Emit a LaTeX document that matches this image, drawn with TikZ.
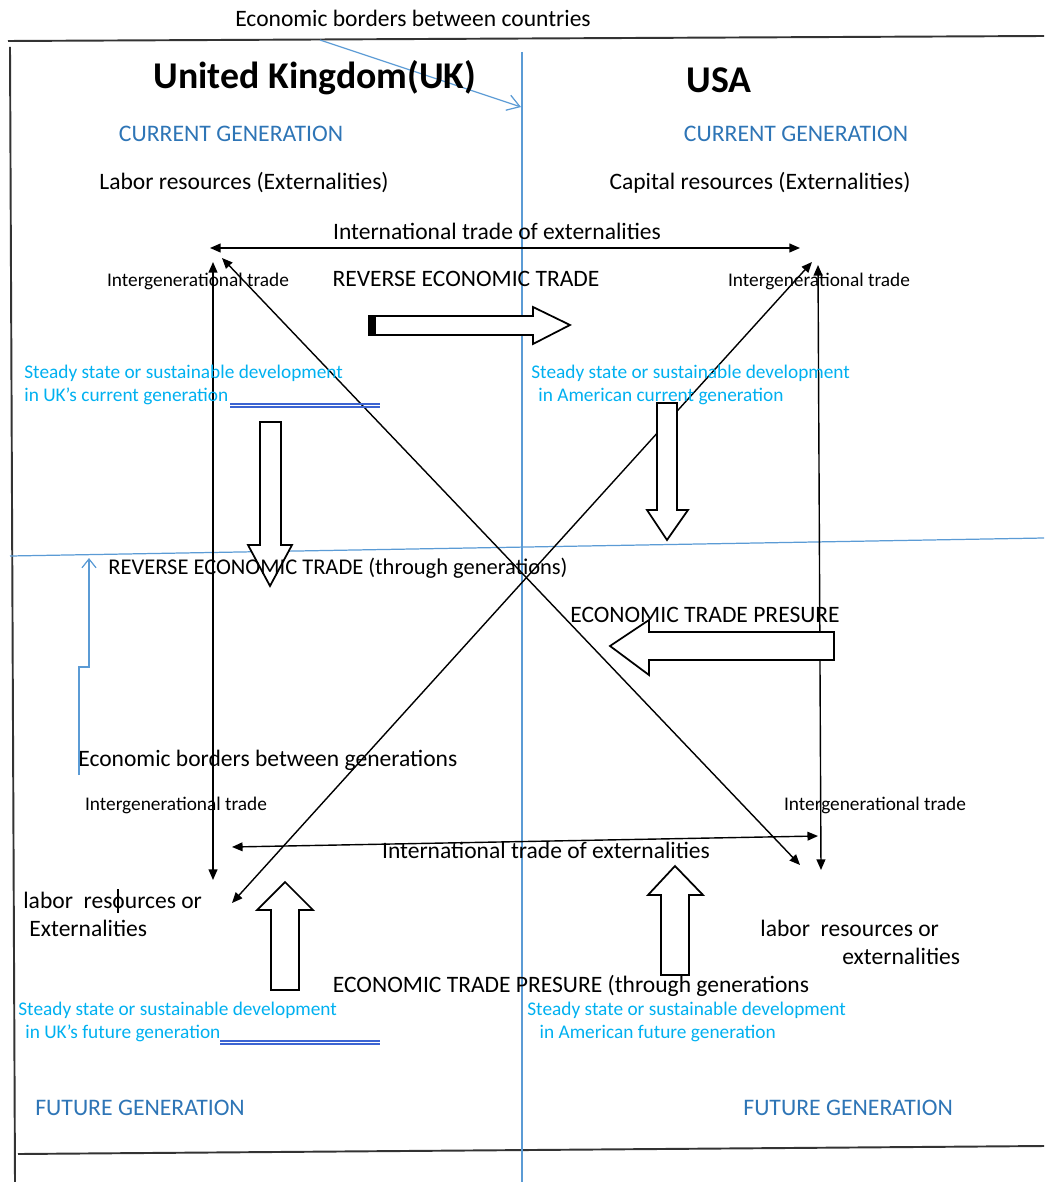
\documentclass[tikz,border=0pt]{standalone}
\usepackage{fontspec}
\setmainfont{Carlito}
\usetikzlibrary{arrows.meta}
\definecolor{lineblue}{RGB}{91,155,213}
\definecolor{genblue}{RGB}{46,117,182}
\definecolor{steadyblue}{RGB}{0,176,240}
\definecolor{ulblue}{RGB}{60,100,210}
\tikzset{
  txt/.style={inner sep=0pt, font=\fontsize{13.4}{15}\selectfont},
  small/.style={inner sep=0pt, font=\fontsize{11}{13}\selectfont},
  head/.style={inner sep=0pt, font=\fontsize{21.5}{23}\selectfont\bfseries},
  gen/.style={inner sep=0pt, text=genblue, font=\fontsize{13.5}{15}\selectfont},
  steady/.style={inner sep=0pt, text=steadyblue, align=left, font=\fontsize{11}{13}\selectfont},
  trade/.style={line width=0.8pt, {Triangle[length=6pt,width=5pt]}-{Triangle[length=6pt,width=5pt]}},
  block/.style={draw, line width=1pt, fill=white, line join=miter},
  border/.style={line width=1.1pt, black!80},
  blueline/.style={lineblue, line width=0.7pt}
}
\begin{document}
\begin{tikzpicture}[x=0.02cm, y=-0.02cm]
  \useasboundingbox (0,0) rectangle (1044,1182);
  % frame and borders
  \draw[border] (8,41) -- (1044,36);
  \draw[border] (10,47) -- (15,1182);
  \draw[border] (18,1154) -- (1044,1146);
  \draw[blueline] (522,52) -- (522,1182);
  \draw[blueline] (10,556) -- (1044,538);
  \node[txt] (cntbord) at (413,18) {Economic borders between countries};
  \coordinate (cntfrom) at (320,40);
  \coordinate (cntto) at (521,107);
  \draw[blueline, -{Straight Barb[length=7pt,width=9pt]}] (cntfrom) -- (cntto);
  % corner points
  \coordinate (ukcur) at (213,262);
  \coordinate (ukcurd) at (222,258);
  \coordinate (uscur) at (818,265);
  \coordinate (uscurd) at (812,262);
  \coordinate (ukfut) at (213,880);
  \coordinate (ukfutd) at (232,903);
  \coordinate (usfut) at (821,870);
  \coordinate (usfutd) at (800,865);
  \coordinate (ukcurh) at (210,248);
  \coordinate (uscurh) at (800,248);
  \coordinate (ukfuth) at (232,847);
  \coordinate (usfuth) at (818,836);
  \draw[trade] (ukcurh) -- (uscurh);
  \draw[trade] (ukfuth) -- (usfuth);
  \draw[trade] (ukcur) -- (ukfut);
  \draw[trade] (uscur) -- (usfut);
  \draw[trade] (ukcurd) -- (usfutd);
  \draw[trade] (uscurd) -- (ukfutd);
  % block arrows
  \draw[block] (369,316) -- (533,316) -- (533,307) -- (570,325) -- (533,344) -- (533,335) -- (369,335) -- cycle;
  \fill (369,316) rectangle (376,335);
  \draw[block] (260,422) -- (281,422) -- (281,545) -- (292,545) -- (270,586) -- (248,545) -- (260,545) -- cycle;
  \draw[block] (657,403) -- (677,403) -- (677,510) -- (688,510) -- (667,540) -- (647,510) -- (657,510) -- cycle;
  \draw[block] (834,632) -- (649,632) -- (649,620) -- (610,646) -- (649,675) -- (649,660) -- (834,660) -- cycle;
  \draw[block] (271,990) -- (271,910) -- (257,910) -- (285,882) -- (313,910) -- (299,910) -- (299,990) -- cycle;
  \draw[block] (661,975) -- (661,895) -- (648,895) -- (675,866) -- (703,895) -- (689,895) -- (689,975) -- cycle;
  % countries
  \node[head] (uk) at (315,78) {United Kingdom(UK)};
  \node[head] (usa) at (719,80) {USA};
  \node[gen] (ukgen) at (231,134) {CURRENT GENERATION};
  \node[gen] (usgen) at (796,134) {CURRENT GENERATION};
  \node[txt] (uklab) at (244,183) {Labor resources (Externalities)};
  \node[txt] (uscap) at (760,183) {Capital resources (Externalities)};
  \node[txt] (intltop) at (497,231) {International trade of externalities};
  \node[small] (igul) at (198,281) {Intergenerational trade};
  \node[small] (igur) at (819,281) {Intergenerational trade};
  \node[txt] (revtop) at (466,279) {REVERSE ECONOMIC TRADE};
  \node[steady, anchor=west] (stukc) at (24,385) {Steady state or sustainable development\\in UK’s current generation};
  \node[steady, anchor=west] (stusc) at (531,385) {Steady state or sustainable development\\\hspace*{4pt}in American current generation};
  \draw[ulblue, line width=0.6pt] (230,404) -- (380,404) (230,407) -- (380,407);
  \node[txt, anchor=west, font=\fontsize{12.8}{15}\selectfont] (revgen) at (108,568) {REVERSE ECONOMIC TRADE (through generations)};
  \node[txt] (press) at (705,615) {ECONOMIC TRADE PRESURE};
  % border between generations
  \node[txt, anchor=west] (genbord) at (78,760) {Economic borders between generations};
  \coordinate (genfrom) at (79,775);
  \coordinate (genjog) at (79,667);
  \coordinate (gento) at (89,558);
  \draw[blueline, -{Straight Barb[length=5pt,width=8pt]}] (genfrom) -- (genjog) -- ++(10,0) -- (gento);
  \node[small] (igll) at (176,805) {Intergenerational trade};
  \node[small] (iglr) at (875,805) {Intergenerational trade};
  \node[txt] (intlbot) at (546,850) {International trade of externalities};
  \node[txt, anchor=west] (ukfl) at (23,900) {labor\ \ resources or};
  \node[txt, anchor=west] (ukfe) at (29,928) {Externalities};
  \draw[line width=0.6pt] (118,889) -- (118,913);
  \node[txt, anchor=west] (usfl) at (760,928) {labor\ \ resources or};
  \node[txt, anchor=west] (usfe) at (842,956) {externalities};
  \node[txt] (pressgen) at (571,986) {ECONOMIC TRADE PRESURE (through generations};
  \node[steady, anchor=west] (stukf) at (18,1022) {Steady state or sustainable development\\\hspace*{4pt}in UK’s future generation};
  \node[steady, anchor=west] (stusf) at (527,1022) {Steady state or sustainable development\\\hspace*{7pt}in American future generation};
  \draw[ulblue, line width=0.6pt] (220,1041) -- (380,1041) (220,1044) -- (380,1044);
  \node[gen, anchor=west] (ukfut) at (35,1108) {FUTURE GENERATION};
  \node[gen, anchor=west] (usfut) at (743,1108) {FUTURE GENERATION};
\end{tikzpicture}
\end{document}
